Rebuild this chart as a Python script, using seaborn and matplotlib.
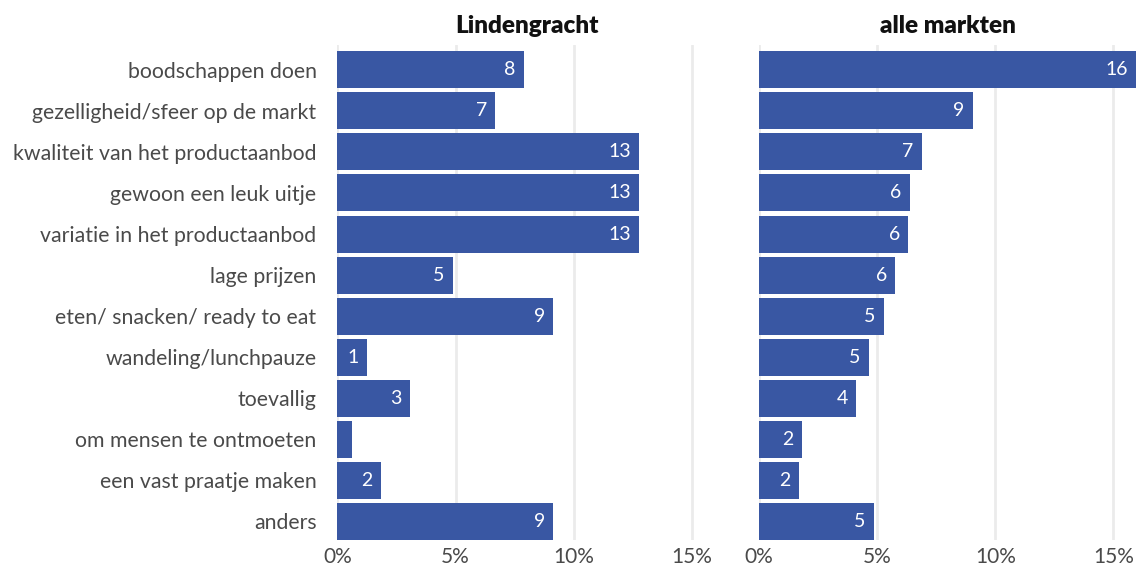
import numpy as np
import pandas as pd
import matplotlib.pyplot as plt
from matplotlib.ticker import PercentFormatter
import seaborn as sns

categories = ['boodschappen doen', 'gezelligheid/sfeer op de markt', 'kwaliteit van het productaanbod',
              'gewoon een leuk uitje', 'variatie in het productaanbod', 'lage prijzen',
              'eten/ snacken/ ready to eat', 'wandeling/lunchpauze', 'toevallig',
              'om mensen te ontmoeten', 'een vast praatje maken', 'anders']
lindengracht = [7.89, 6.67, 12.76, 12.76, 12.76, 4.89, 9.12, 1.26, 3.07, 0.62, 1.85, 9.12]
alle_markten = [15.95, 9.04, 6.90, 6.39, 6.31, 5.76, 5.29, 4.66, 4.11, 1.82, 1.69, 4.87]
panels = ['Lindengracht', 'alle markten']
ticks = [0, 5, 10, 15]

BAR = '#3957a3'
GRID = '#ebebeb'
TXT = '#4a4a4a'

sns.set_theme(style='white')
plt.rcParams['font.family'] = ['Lato', 'DejaVu Sans']

fig = plt.figure(figsize=(11.37, 5.64), dpi=100)
ax1 = fig.add_axes([0.2967, 0.0426, 0.3328, 0.8774])
ax2 = fig.add_axes([0.6675, 0.0426, 0.3325, 0.8774])

for ax, title, vals in zip([ax1, ax2], panels, [lindengracht, alle_markten]):
    df = pd.DataFrame({'cat': categories, 'val': vals})
    for t in ticks:
        ax.axvline(t, color=GRID, lw=2, zorder=0)
    sns.barplot(data=df, x='val', y='cat', color=BAR, saturation=1, width=0.9,
                ax=ax, zorder=2, edgecolor='none')
    ax.set_xlim(0, 16)
    ax.set_ylim(11.45, -0.6)
    ax.set_xticks(ticks)
    ax.xaxis.set_major_formatter(PercentFormatter(decimals=0))
    ax.set_xlabel('')
    ax.set_ylabel('')
    ax.set_title(title, fontsize=17.5, fontweight='heavy', color='#111111', pad=9)
    for s in ax.spines.values():
        s.set_visible(False)
    ax.tick_params(axis='x', length=0, labelsize=15, labelcolor=TXT, pad=5)
    ax.tick_params(axis='y', length=0, labelsize=15.3, labelcolor=TXT, pad=15)
    for i, v in enumerate(vals):
        if v >= 1:
            ax.text(min(v, 16) - 0.35, i, f'{round(v)}', color='white', fontsize=14,
                    ha='right', va='center', zorder=3)

ax2.set_yticklabels([])

plt.savefig('out.png', dpi=100, facecolor='white')
